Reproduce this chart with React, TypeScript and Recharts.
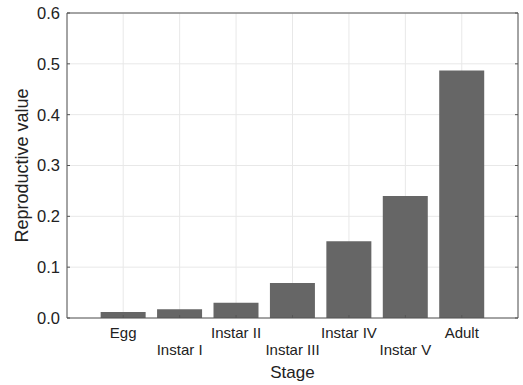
import { ComposedChart, Bar, Line, XAxis, YAxis, CartesianGrid, Label, ReferenceLine } from 'recharts';

const stages = ['Egg', 'Instar I', 'Instar II', 'Instar III', 'Instar IV', 'Instar V', 'Adult'];
const reproValues = [0.012, 0.017, 0.03, 0.069, 0.151, 0.24, 0.487];
const yTicks = [0, 0.1, 0.2, 0.3, 0.4, 0.5, 0.6];

const data = stages.map((stage, i) => ({ stage, value: reproValues[i] }));

const FONT = '"Liberation Sans", Arial, sans-serif';
const FRAME = '#555';

// labels alternate between two rows so they don't collide
const StageTick = (props: any) => {
    const { x, y, payload, index } = props;
    const low = index % 2 === 1;
    return (
        <text
            x={x}
            y={y + (low ? 38 : 21)}
            textAnchor="middle"
            fontFamily={FONT}
            fontSize={15}
            fill="#222"
        >
            {payload.value}
        </text>
    );
};

const Empty = () => <g />;

export default function App() {
    return (
        <div style={{ position: 'absolute', left: 0, top: 0, background: '#fff' }}>
            <ComposedChart
                width={523}
                height={385}
                data={data}
                margin={{ top: 13, right: 4, bottom: 0, left: 0 }}
                barCategoryGap="10%"
            >
                <CartesianGrid stroke="#e8e8e8" />
                <XAxis
                    dataKey="stage"
                    height={67}
                    padding={{ left: 28, right: 28 }}
                    stroke={FRAME}
                    tickSize={-3}
                    tick={<StageTick />}
                    interval={0}
                >
                    <Label
                        value="Stage"
                        position="insideBottom"
                        offset={7}
                        style={{ fontFamily: FONT, fontSize: 17, fill: '#222' }}
                    />
                </XAxis>
                <YAxis
                    width={67}
                    domain={[0, 0.6]}
                    ticks={yTicks}
                    stroke={FRAME}
                    tickSize={-3}
                    tickMargin={10}
                    tickFormatter={(v: number) => v.toFixed(1)}
                    tick={{ fontFamily: FONT, fontSize: 16.5, fill: '#222' }}
                >
                    <Label
                        value="Reproductive value"
                        angle={-90}
                        position="insideLeft"
                        offset={22}
                        style={{ fontFamily: FONT, fontSize: 18, fill: '#222', textAnchor: 'middle' }}
                    />
                </YAxis>
                {/* right edge of the box (an axis of width 0 is not drawn) */}
                <YAxis
                    yAxisId="right"
                    orientation="right"
                    width={1}
                    domain={[0, 0.6]}
                    ticks={yTicks}
                    stroke={FRAME}
                    tickSize={-3}
                    tick={<Empty />}
                />
                <ReferenceLine y={0.6} stroke={FRAME} />
                <Bar dataKey="value" fill="#666" isAnimationActive={false} />
                <Line
                    yAxisId="right"
                    dataKey="value"
                    stroke="none"
                    dot={false}
                    activeDot={false}
                    isAnimationActive={false}
                />
            </ComposedChart>
        </div>
    );
}
